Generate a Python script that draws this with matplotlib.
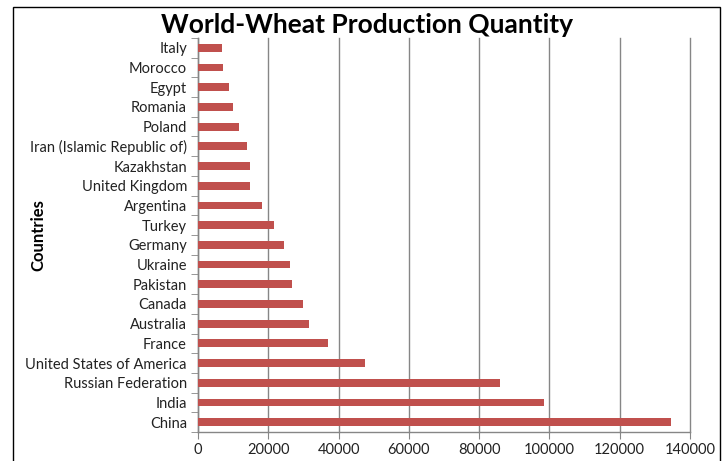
import matplotlib
matplotlib.use("Agg")
import matplotlib.pyplot as plt
from matplotlib.patches import Rectangle
from matplotlib.ticker import FixedLocator

# データ（下から上の順）
countries = [
    "China", "India", "Russian Federation", "United States of America",
    "France", "Australia", "Canada", "Pakistan", "Ukraine", "Germany",
    "Turkey", "Argentina", "United Kingdom", "Kazakhstan",
    "Iran (Islamic Republic of)", "Poland", "Romania", "Egypt",
    "Morocco", "Italy",
]
production = [
    134600, 98400, 85900, 47400, 36900, 31700, 30000, 26700, 26100, 24400,
    21500, 18300, 14900, 14700, 14000, 11700, 9900, 8800, 7100, 6900,
]
x_ticks = [0, 20000, 40000, 60000, 80000, 100000, 120000, 140000]

plt.rcParams["font.family"] = ["Lato", "DejaVu Sans"]

fig = plt.figure(figsize=(7.26, 4.61), dpi=100)
ax = fig.add_axes([198 / 726, 29 / 461, 492 / 726, 394 / 461])

pos = list(range(len(countries)))
ax.barh(pos, production, height=0.4, color="#C0504D", zorder=3)

ax.set_xlim(0, 140000)
ax.set_ylim(-0.5, len(countries) - 0.5)
ax.set_xticks(x_ticks)
ax.set_xticklabels([str(v) for v in x_ticks], fontsize=10.5, color="#222222")
ax.set_yticks(pos)
ax.set_yticklabels(countries, fontsize=10.5, color="#222222")
ax.yaxis.set_minor_locator(FixedLocator([p - 0.5 for p in pos] + [len(pos) - 0.5]))
ax.tick_params(axis="y", which="major", length=0, pad=8)
ax.tick_params(axis="y", which="minor", length=5, color="#868686", direction="out")
ax.tick_params(axis="x", length=5, color="#868686", direction="out", pad=3)

ax.grid(axis="x", color="#868686", linewidth=1.0, zorder=0)
for gl in ax.get_xgridlines():
    gl.set_clip_on(False)
for s in ["top", "right"]:
    ax.spines[s].set_visible(False)
for s in ["left", "bottom"]:
    ax.spines[s].set_color("#868686")
    ax.spines[s].set_linewidth(1.0)

ax.set_ylabel("Countries", fontsize=12, fontweight="bold")
ax.yaxis.set_label_coords((46 - 198) / 492, 0.5)
fig.text(367 / 726, 1 - 25 / 461, "World-Wheat Production Quantity",
         ha="center", va="center", fontsize=19, fontweight="bold")

# 外枠
fig.patches.append(Rectangle((13 / 726, -0.05), 707 / 726, 1.05 - 7 / 461,
                             transform=fig.transFigure, fill=False,
                             edgecolor="black", linewidth=1.0))

fig.savefig("out.png", dpi=100)
plt.close(fig)
